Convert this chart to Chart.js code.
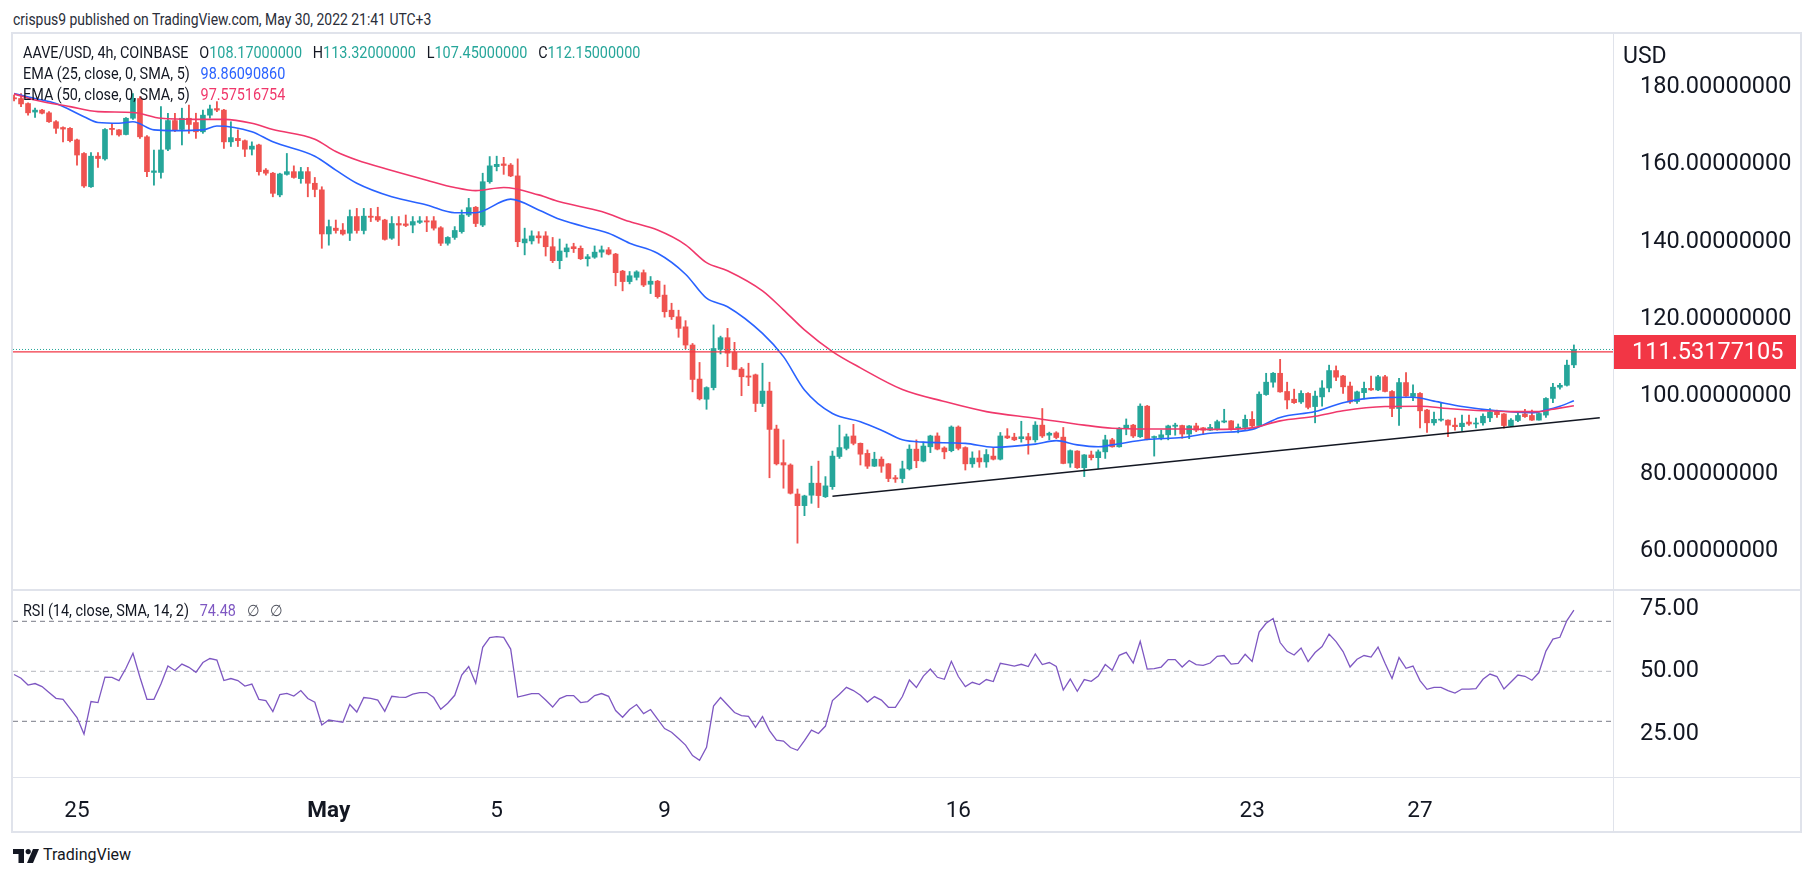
<!DOCTYPE html>
<html>
<head>
<meta charset="utf-8">
<script src="https://cdn.jsdelivr.net/npm/chart.js@4.4.0/dist/chart.umd.min.js"></script>
<style>
  html, body { margin: 0; padding: 0; background: #fff; }
  body { width: 1813px; height: 876px; position: relative; overflow: hidden;
         font-family: Roboto, 'Liberation Sans', sans-serif; color: #131722; }
  .abs { position: absolute; white-space: nowrap; }
  .txt { font-size: 16px; line-height: 18px; transform: scaleX(0.9); transform-origin: 0 50%; }
  #frame { left: 11px; top: 32px; width: 1791px; height: 801px; border: 2px solid #e0e3eb; box-sizing: border-box; }
  .sep { position: absolute; background: #e0e3eb; }
  canvas { position: absolute; }
  .gap { margin-left: 12px; }
</style>
</head>
<body>
<div class="abs txt" style="left:13px; top:11px; color:#2a2e39; transform:scaleX(0.87);">crispus9 published on TradingView.com, May 30, 2022 21:41 UTC+3</div>
<div id="frame" class="abs"></div>

<canvas id="price" width="1787" height="556" style="left:13px; top:34px;"></canvas>
<canvas id="rsi" width="1787" height="240" style="left:13px; top:591px;"></canvas>

<div class="sep" style="left:13px; top:589px; width:1787px; height:2px;"></div>
<div class="sep" style="left:13px; top:777px; width:1787px; height:1px;"></div>
<div class="sep" style="left:1613px; top:34px; width:1px; height:797px;"></div>

<div class="abs txt" style="left:23px; top:44px;">AAVE/USD, 4h, COINBASE<span class="gap">O</span><span style="color:#26a69a">108.17000000</span><span class="gap">H</span><span style="color:#26a69a">113.32000000</span><span class="gap">L</span><span style="color:#26a69a">107.45000000</span><span class="gap">C</span><span style="color:#26a69a">112.15000000</span></div>
<div class="abs txt" style="left:23px; top:65px;">EMA (25, close, 0, SMA, 5)<span class="gap" style="color:#2962ff">98.86090860</span></div>
<div class="abs txt" style="left:23px; top:86px;">EMA (50, close, 0, SMA, 5)<span class="gap" style="color:#f0386b">97.57516754</span></div>
<div class="abs txt" style="left:23px; top:602px;">RSI (14, close, SMA, 14, 2)<span class="gap" style="color:#7e57c2">74.48</span><span class="gap" style="color:#50535e">∅</span><span class="gap" style="color:#50535e">∅</span></div>
<div class="abs" style="left:1623px; top:42px; font-size:23px; line-height:28px;">USD</div>

<div class="abs" style="left:13px; top:848px;">
  <svg width="26" height="14" viewBox="0 0 26 14">
    <path d="M0 0 H11 V14 H5.5 V5 H0 Z" fill="#131722"/>
    <circle cx="15.2" cy="2.6" r="2.6" fill="#131722"/>
    <path d="M20 0 H26 L20 14 H14 Z" fill="#131722"/>
  </svg>
</div>
<div class="abs" style="left:43px; top:846px; font-size:16px; line-height:18px; color:#131722;">TradingView</div>

<script>
// 4h candles, index 0 = first candle of May 1
const FIRST_INDEX = -45;

const candleOpen = [
  177.2,177.0,175.7,173.5,174.0,173.3,171.0,169.5,169.3,166.3,
  162.8,154.2,162.1,161.4,169.3,168.9,167.7,171.9,177.0,167.1,
  157.9,157.9,163.9,171.3,169.0,171.9,170.8,168.4,172.7,174.4,
  174.0,165.8,166.7,166.1,163.9,165.0,158.5,157.7,152.1,157.4,
  158.1,156.3,158.1,155.1,153.4,142.0,143.5,143.0,142.2,146.5,
  142.9,146.6,146.5,145.6,140.9,144.7,144.6,144.3,145.0,145.4,
  145.4,143.6,139.6,141.1,142.6,146.9,148.9,144.3,155.5,159.4,
  160.1,159.8,157.0,139.7,140.2,141.5,141.5,138.7,135.1,137.4,
  138.7,138.3,135.6,136.0,137.3,137.9,136.8,132.4,129.7,130.8,
  132.0,129.0,129.8,126.2,122.3,120.6,118.0,113.3,104.5,99.3,
  102.3,112.2,115.2,111.4,107.1,105.3,105.6,98.2,101.4,91.6,
  82.9,82.3,74.8,71.8,74.5,77.6,74.1,76.7,84.5,86.6,
  89.8,87.9,85.3,82.0,83.8,82.6,79.0,78.8,81.3,86.4,
  83.3,87.0,89.8,86.7,86.0,92.1,86.8,82.6,84.1,83.1,
  84.6,83.8,89.8,89.5,89.1,89.6,88.8,92.6,90.0,90.6,
  89.5,82.8,85.9,81.6,84.9,84.2,85.7,88.8,87.0,91.7,
  92.6,89.6,97.5,89.4,89.4,90.1,92.3,92.5,90.3,92.4,
  91.9,91.3,91.5,93.4,93.7,91.8,92.0,94.1,92.5,100.5,
  103.7,106.0,101.3,99.3,98.6,100.8,97.4,99.9,102.2,106.7,
  105.3,102.7,98.7,101.0,102.1,101.7,105.1,101.3,96.9,103.6,
  100.0,100.8,96.5,93.2,93.9,93.9,92.6,92.2,93.4,92.9,
  93.2,94.5,96.0,95.5,92.4,93.8,95.5,95.1,93.9,95.2,
  99.5,102.4,102.9,108.17
];
const candleHigh = [
  177.9,178.3,175.9,174.5,174.2,173.6,171.3,169.7,169.5,166.5,
  163.0,163.0,163.0,169.2,170.6,169.0,172.1,178.3,177.5,167.4,
  163.7,174.9,173.2,173.2,174.5,175.3,173.2,174.0,175.3,176.2,
  174.2,171.0,168.9,166.3,165.8,165.2,158.9,157.9,157.7,162.8,
  159.6,159.2,159.2,156.6,154.2,145.6,145.6,144.7,148.2,148.6,
  148.6,148.6,148.9,145.8,146.5,146.5,146.9,146.5,146.5,146.5,
  146.5,143.9,141.3,143.9,148.2,151.2,149.1,157.7,162.0,162.1,
  161.8,160.2,161.4,143.5,142.8,142.6,142.6,141.1,140.7,139.4,
  139.6,138.9,136.7,138.9,138.9,138.5,137.0,132.6,132.3,132.5,
  132.7,131.0,130.0,128.8,124.1,122.3,119.6,113.7,108.8,102.5,
  118.5,115.6,117.6,114.0,107.5,108.6,105.8,108.6,103.7,92.6,
  88.8,82.6,76.1,74.5,82.0,83.3,79.3,85.9,92.6,90.3,
  92.8,88.0,86.2,85.6,84.4,82.7,79.6,83.3,87.5,88.8,
  88.2,90.0,90.6,87.0,92.4,92.4,87.0,85.7,86.0,86.3,
  86.8,90.7,91.7,90.5,93.6,90.5,93.5,96.9,90.8,90.9,
  92.0,86.2,86.0,85.0,85.9,86.2,90.0,89.2,92.0,94.2,
  92.8,98.1,97.7,89.8,91.3,92.6,93.1,92.6,92.5,93.1,
  92.0,92.8,93.9,96.7,93.8,92.9,95.2,96.1,101.2,106.0,
  106.2,109.6,103.7,101.9,101.5,101.0,101.4,104.1,108.1,107.9,
  105.5,103.7,101.4,103.7,105.3,105.5,105.5,101.5,104.7,106.2,
  103.0,101.0,96.7,96.0,98.4,94.0,94.4,95.2,95.2,94.4,
  95.5,96.9,96.5,95.6,94.3,95.8,96.7,96.5,95.8,99.7,
  103.4,103.4,109.4,113.32
];
const candleLow = [
  176.4,174.9,172.7,172.1,173.0,170.8,168.0,165.8,165.8,159.8,
  154.0,154.0,159.2,161.1,167.6,167.3,167.6,171.6,166.7,156.8,
  154.6,156.4,163.5,168.4,165.0,168.0,166.7,168.0,171.9,173.6,
  164.1,164.6,164.6,162.0,162.4,157.2,157.2,151.6,151.6,157.2,
  156.4,155.1,151.6,151.6,138.3,139.1,142.2,141.7,140.3,142.2,
  142.0,145.2,145.2,140.4,140.6,139.0,143.9,142.3,144.7,142.6,
  143.0,139.0,139.1,140.6,142.2,146.5,143.9,143.9,155.1,158.3,
  157.4,156.8,138.7,136.6,139.4,139.6,136.3,134.6,133.0,136.0,
  137.2,135.4,133.7,135.7,136.0,136.6,128.6,127.3,129.1,130.1,
  128.4,126.6,125.4,120.5,119.9,115.3,112.3,101.2,99.1,96.7,
  101.7,111.0,107.7,106.9,100.2,102.8,96.1,97.4,79.0,82.3,
  76.3,74.8,62.1,69.2,72.4,71.3,73.9,76.0,84.0,86.2,
  87.5,82.3,81.4,81.9,80.4,78.0,77.8,77.7,81.0,81.6,
  83.1,85.5,86.2,83.9,85.7,86.2,81.0,81.7,81.7,81.7,
  83.6,83.6,89.1,88.6,88.2,85.1,88.2,89.4,88.8,89.1,
  82.6,81.7,81.4,79.3,83.6,81.4,84.0,86.9,86.9,90.1,
  89.4,89.4,88.8,84.6,88.8,88.8,90.0,89.2,89.1,90.9,
  90.2,91.2,91.3,93.2,91.3,90.6,91.5,92.2,92.2,100.3,
  102.4,101.1,96.8,98.2,98.2,96.8,93.2,97.5,101.2,104.1,
  100.8,98.2,98.2,99.4,101.6,101.5,101.2,94.8,92.5,100.0,
  98.9,91.9,90.7,92.6,93.6,89.6,91.3,91.1,92.5,91.9,
  92.6,93.5,94.6,91.8,92.2,93.5,94.6,93.8,93.9,94.6,
  98.4,101.9,102.7,107.45
];
const candleClose = [
  176.9,175.6,173.3,174.0,173.2,171.0,169.3,169.1,166.1,162.4,
  154.4,162.1,161.5,169.0,169.0,167.6,171.9,177.0,167.1,158.1,
  158.3,163.7,171.3,168.9,171.9,170.3,168.4,172.7,174.3,174.0,
  165.8,166.9,166.1,163.9,164.7,158.1,157.7,152.5,157.5,158.1,
  156.6,158.1,155.1,153.5,142.0,143.9,142.9,142.0,146.5,142.9,
  146.6,146.3,145.6,140.6,144.7,144.3,144.2,145.2,145.4,145.1,
  143.5,139.6,141.1,142.9,146.9,148.8,144.7,155.5,159.6,160.0,
  159.7,157.0,140.0,140.7,141.5,141.0,138.7,135.1,137.6,138.4,
  138.2,135.6,136.1,137.3,137.9,136.8,132.0,129.7,131.2,132.2,
  128.8,129.8,125.8,121.9,120.6,117.6,113.3,104.4,99.4,102.3,
  112.4,115.2,111.2,107.0,105.1,105.0,98.2,101.4,91.5,82.6,
  82.3,75.0,71.8,74.3,77.6,74.4,76.9,84.6,86.8,89.6,
  87.9,85.1,82.0,83.8,82.0,78.8,78.7,81.3,86.4,83.4,
  87.2,89.8,86.4,85.7,92.1,86.6,82.6,84.1,83.1,85.0,
  83.8,89.8,89.3,88.8,89.6,88.8,92.6,89.8,90.5,89.4,
  82.7,86.0,81.6,84.9,84.2,85.7,88.8,87.0,91.8,92.6,
  89.8,97.5,88.9,89.6,90.1,92.4,92.6,90.3,92.4,91.3,
  91.3,92.0,93.5,93.7,91.7,92.1,94.1,92.4,100.6,103.7,
  106.0,101.2,99.1,98.4,100.8,97.2,100.1,102.2,106.7,105.0,
  102.5,98.6,101.2,102.1,101.7,105.1,101.3,96.9,103.6,100.1,
  100.8,96.3,93.2,94.1,94.1,92.6,92.2,93.1,92.9,93.1,
  94.9,96.0,95.3,92.5,93.9,95.1,94.8,93.9,95.6,99.5,
  102.4,102.9,108.1,112.15
];

// EMA curves (candle index, price)
const ema25Idx = [-45,-42,-39,-35,-33,-30,-28,-25,-22,-18,-16,-11,-8,-2,1,4,9,14,18,21,26,30,33,38,40,43,47,51,54,57,62,65,68,72,76,79,82,85,91,95,101,104,107,110,112,117,122,126,132,136,141,145,150,155,158,162,167,172,174,176,178];
const ema25Val = [178.3,177.0,175.7,172.3,170.8,170.6,171.0,168.9,168.7,168.9,169.9,168.4,165.8,162.1,158.5,155.1,151.6,149.5,147.5,147.5,151.0,148.2,145.8,143.2,142.2,139.6,137.0,131.6,125.4,123.2,116.3,110.3,101.7,95.6,93.5,91.3,88.8,88.2,87.9,86.9,87.7,88.6,87.5,87.0,87.5,88.9,89.4,90.5,91.5,94.6,96.1,98.4,99.7,99.8,98.8,97.4,96.3,95.8,96.5,97.5,98.9];
const ema50Idx = [-45,-42,-37,-33,-28,-24,-19,-15,-11,-8,-2,1,4,9,14,18,21,25,30,33,39,43,47,51,54,57,62,65,68,72,76,82,88,94,101,108,112,117,122,126,132,136,141,145,151,156,160,165,169,173,175,178];
const ema50Val = [178.2,176.6,174.9,173.6,173.4,171.9,171.6,171.6,170.6,169.0,166.5,163.3,161.1,158.4,155.9,154.0,153.2,154.0,152.1,150.3,147.8,145.2,143.0,139.2,134.6,132.5,127.3,122.4,117.2,111.6,107.4,101.8,98.7,96.1,94.4,92.6,91.8,91.6,91.6,91.5,91.9,93.7,94.9,96.3,97.4,97.5,96.9,96.3,96.1,96.1,96.7,97.6];

// drawings
const trendIdx = [72, 181.7];
const trendVal = [74.2, 94.5];
const hLinePrice = 111.53177105;
const lastClose = 112.15;

// RSI (14) per candle
const rsiVal = [
  48.7,47.2,44.5,45.1,43.9,41.5,39.2,38.8,35.2,31.5,
  24.9,37.9,37.5,47.7,47.6,46.3,51.2,57.2,47.6,38.8,
  38.8,44.9,52.1,50.3,52.9,51.6,49.6,53.5,55.1,54.5,
  46.3,47.1,46.3,44.1,44.9,38.8,38.3,33.9,40.7,41.2,
  40.1,42.3,39.1,37.6,28.5,30.5,30.1,29.6,36.7,33.7,
  39.5,39.2,38.5,34.0,40.0,39.7,39.6,40.9,41.5,41.5,
  39.5,34.8,37.2,40.4,48.5,51.9,45.2,59.6,63.5,63.9,
  63.6,58.9,39.7,40.4,41.1,41.1,38.5,35.7,39.1,40.3,
  40.3,37.5,37.9,40.3,41.1,40.0,34.3,31.6,34.7,36.7,
  33.1,34.7,30.9,27.1,25.6,23.1,20.5,16.3,14.4,19.6,
  36.1,39.5,36.5,33.5,32.3,32.0,27.6,31.9,26.3,22.5,
  22.1,19.5,18.4,22.3,26.5,25.1,28.1,38.3,40.8,43.6,
  42.3,40.4,37.7,39.9,38.5,35.6,35.6,39.9,46.5,43.5,
  48.1,50.9,47.6,46.8,54.0,47.9,43.9,45.6,44.7,46.7,
  45.9,53.2,52.7,52.1,52.8,51.9,56.9,52.7,53.5,51.9,
  42.5,46.9,42.0,46.7,46.0,48.1,52.7,50.4,56.4,57.6,
  53.3,62.0,50.9,51.1,51.7,54.7,54.7,51.7,54.3,52.7,
  52.4,53.3,56.0,56.3,52.9,53.2,56.8,53.9,65.7,69.2,
  71.1,61.5,58.0,56.5,59.3,53.9,57.5,59.9,64.9,61.9,
  57.9,51.7,54.8,56.3,55.7,59.7,53.2,47.1,55.5,51.2,
  52.1,46.3,42.8,43.6,43.6,42.3,41.3,42.9,42.9,43.1,
  46.8,48.9,47.9,42.9,45.7,48.5,48.0,46.4,49.5,58.1,
  62.9,63.6,70.3,74.48
];
const rsiBands = [70, 50, 30];

// axes
const priceTicks = [60, 80, 100, 120, 140, 160, 180];
const rsiTicks = [25, 50, 75];
const timeTickIdx = [-36, 0, 24, 48, 90, 132, 156];
const timeTickLabels = ['25', 'May', '5', '9', '16', '23', '27'];

const X_MIN = -45.15, X_MAX = 183.59;
const UP = '#26a69a', DOWN = '#ef5350';
const AXIS_FONT = { family: "Roboto, 'Liberation Sans', sans-serif", size: 23.5 };

const candleIdx = candleOpen.map((_, k) => FIRST_INDEX + k);
const candleColors = candleOpen.map((o, k) => candleClose[k] >= o ? UP : DOWN);
const span = v => [{ x: X_MIN, y: v }, { x: X_MAX, y: v }];

const priceTag = {
  id: 'priceTag',
  afterDraw(chart) {
    const ys = chart.scales.y;
    const y = ys.getPixelForValue(hLinePrice);
    const ctx = chart.ctx;
    ctx.save();
    ctx.fillStyle = '#f23645';
    ctx.fillRect(ys.left, Math.round(y) - 17, 183, 34);
    ctx.fillStyle = '#ffffff';
    ctx.font = `${AXIS_FONT.size}px ${AXIS_FONT.family}`;
    ctx.textBaseline = 'middle';
    ctx.fillText(hLinePrice.toFixed(8), ys.left + 19, y + 1);
    ctx.restore();
  }
};

new Chart(document.getElementById('price'), {
  type: 'bar',
  data: {
    datasets: [
      { type: 'line', data: span(hLinePrice), borderColor: '#f23645', borderWidth: 1.2, pointRadius: 0, order: 0 },
      { type: 'line', data: span(lastClose), borderColor: UP, borderWidth: 1, borderDash: [1, 2], pointRadius: 0, order: 0 },
      { type: 'line', data: trendIdx.map((x, k) => ({ x, y: trendVal[k] })), borderColor: '#131722', borderWidth: 1.5, pointRadius: 0, order: 0 },
      { type: 'line', data: ema50Idx.map((x, k) => ({ x, y: ema50Val[k] })), borderColor: '#f0386b', borderWidth: 1.6,
        pointRadius: 0, cubicInterpolationMode: 'monotone', order: 1 },
      { type: 'line', data: ema25Idx.map((x, k) => ({ x, y: ema25Val[k] })), borderColor: '#2962ff', borderWidth: 1.6,
        pointRadius: 0, cubicInterpolationMode: 'monotone', order: 1 },
      { data: candleIdx.map((x, k) => ({ x, y: [candleOpen[k], candleClose[k]] })), backgroundColor: candleColors,
        barThickness: 5, minBarLength: 1, grouped: false, order: 2 },
      { data: candleIdx.map((x, k) => ({ x, y: [candleLow[k], candleHigh[k]] })), backgroundColor: candleColors,
        barThickness: 1.2, grouped: false, order: 3 }
    ]
  },
  options: {
    responsive: false,
    animation: false,
    events: [],
    layout: { padding: 0, autoPadding: false },
    plugins: { legend: { display: false }, tooltip: { enabled: false } },
    scales: {
      x: { type: 'linear', min: X_MIN, max: X_MAX, offset: false, display: false },
      y: {
        position: 'right', min: 50, max: 193.67,
        grid: { display: false }, border: { display: false },
        ticks: { font: AXIS_FONT, color: '#131722', padding: 19, callback: v => v.toFixed(8) },
        afterBuildTicks: s => { s.ticks = priceTicks.map(v => ({ value: v })); },
        afterFit: s => { s.width = 187; s.paddingTop = 0; s.paddingBottom = 0; }
      }
    }
  },
  plugins: [priceTag]
});

new Chart(document.getElementById('rsi'), {
  type: 'line',
  data: {
    datasets: [
      { data: candleIdx.map((x, k) => ({ x, y: rsiVal[k] })), borderColor: '#7e57c2', borderWidth: 1.3, pointRadius: 0, order: 0 },
      ...rsiBands.map(b => ({
        data: span(b), borderColor: b === 50 ? 'rgba(120,123,134,0.55)' : '#787b86',
        borderWidth: 1, borderDash: [5, 4], pointRadius: 0, order: 1
      }))
    ]
  },
  options: {
    responsive: false,
    animation: false,
    events: [],
    layout: { padding: 0, autoPadding: false },
    plugins: { legend: { display: false }, tooltip: { enabled: false } },
    scales: {
      x: {
        type: 'linear', min: X_MIN, max: X_MAX, offset: false,
        grid: { display: false }, border: { display: false },
        ticks: {
          color: '#131722', padding: 13, maxRotation: 0, autoSkip: false,
          font: c => ({ family: AXIS_FONT.family, size: 22.5, weight: timeTickLabels[c.index] === 'May' ? 'bold' : 'normal' }),
          callback: v => timeTickLabels[timeTickIdx.indexOf(v)]
        },
        afterBuildTicks: s => { s.ticks = timeTickIdx.map(v => ({ value: v })); },
        afterFit: s => { s.height = 54; s.paddingLeft = 0; s.paddingRight = 0; }
      },
      y: {
        position: 'right', min: 7.72, max: 82.12,
        grid: { display: false }, border: { display: false },
        ticks: { font: AXIS_FONT, color: '#131722', padding: 19, callback: v => v.toFixed(2) },
        afterBuildTicks: s => { s.ticks = rsiTicks.map(v => ({ value: v })); },
        afterFit: s => { s.width = 187; s.paddingTop = 0; s.paddingBottom = 0; }
      }
    }
  }
});
</script>
</body>
</html>
